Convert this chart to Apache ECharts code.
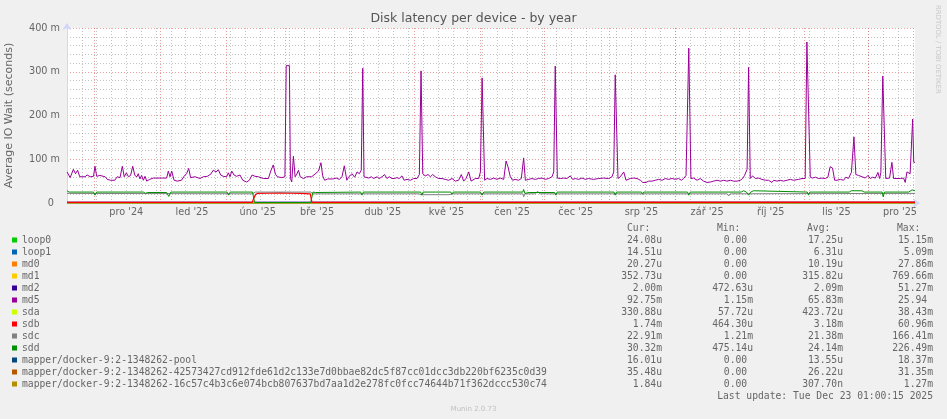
<!DOCTYPE html>
<html><head><meta charset="utf-8">
<script src="https://cdn.jsdelivr.net/npm/echarts@6/dist/echarts.min.js"></script>
<style>html,body{margin:0;padding:0;background:#F0F0F0;}#c{width:947px;height:419px;}</style>
</head><body><div id="c"></div>
<script>
// ---- data (x = days since 18 Nov 2024 01:00, y = milliseconds) ----
const seriesNames = ['loop0','loop1','md0','md1','md2','md5','sda','sdb','sdc','sdd',
  'mapper/docker-9:2-1348262-pool',
  'mapper/docker-9:2-1348262-42573427cd912fde61d2c133e7d0bbae82dc5f87cc01dcc3db220bf6235c0d39',
  'mapper/docker-9:2-1348262-16c57c4b3c6e074bcb807637bd7aa1d2e278fc0fcc74644b71f362dccc530c74'];
const seriesColors = ['#00CC00','#0066B3','#FF8000','#FFCC00','#330099','#990099','#CCFF00','#FF0000','#808080','#008F00','#00487D','#B35A00','#B38F00'];
const curVals = ['24.08u','14.51u','20.27u','352.73u','2.00m','92.75m','330.88u','1.74m','22.91m','30.32m','16.01u','35.48u','1.84u'];
const minVals = ['0.00 ','0.00 ','0.00 ','0.00 ','472.63u','1.15m','57.72u','464.30u','1.21m','475.14u','0.00 ','0.00 ','0.00 '];
const avgVals = ['17.25u','6.31u','10.19u','315.82u','2.09m','65.83m','423.72u','3.18m','21.38m','24.14m','13.55u','26.22u','307.70n'];
const maxVals = ['15.15m','5.09m','27.86m','769.66m','51.27m','25.94 ','38.43m','60.96m','166.41m','226.49m','18.37m','31.35m','1.27m'];
const monthStarts = [12.96,43.96,74.96,102.96,133.96,163.96,194.96,224.96,255.96,286.96,316.96,347.96,377.96];
const monthLabels = ["pro '24","led '25","úno '25","bře '25","dub '25","kvě '25","čen '25","čec '25","srp '25","zář '25","říj '25","lis '25","pro '25"];
const yTicks = [0,100,200,300,400];

const zeroPts = [[0,0],[400,0]];
const loop0Pts = [[0,0],[400,0]];
const loop1Pts = [[0,0],[400,0]];
const md0Pts = [[0,0],[400,0]];
const md1Pts = [[0,0.3],[384.6,0.3],[385,3],[385.4,0.3],[400,0.35]];
const md2Pts = [[0,2],[87.8,2],[88.3,5],[88.8,2],[115.5,2],[115.9,5],[116.3,2],[400,2]];
const sdaPts = [[0,0.4],[400,0.3]];
const sdbPts = [[0,1.5],[87.4,1.5],[88,10],[89,20],[90,22],[100,23],[110,22],[114.8,21],[115.5,1.5],[400,1.7]];
const sdcPts = [[0,22],[87.5,21],[88.8,25],[115,25],[116,21],[166,21],[167,19],[180,19],[182,21],[215,21],[215.4,14],[216,21],[221,21],[222,27],[223,21],[311.5,21],[312.1,16],[312.8,21],[400,22]];
const sddPts = [[0,28],[1,25],[12.5,25],[13.2,18],[14,25],[36,25],[37,22],[38,24],[47,24],[48,15],[49,25],[75.5,25],[76.2,18],[77,25],[87.5,25],[88.5,1],[115,1],[116,25],[116.5,27],[117.2,24],[138.5,25],[139.1,18],[139.8,25],[166.8,25],[167.4,18],[168,25],[174,25],[174.5,21],[175,25],[181,25],[181.6,20],[182.2,25],[195,25],[195.8,18],[196.6,25],[215,25],[215.4,31],[216,22],[218,24],[230,24],[230.6,18],[231.2,25],[258,25],[258.6,18],[259.2,25],[271,25],[271.5,20],[272,25],[292.7,25],[293.3,18],[294,25],[318,25],[319.2,28],[320.5,25],[321.5,18],[322.5,25],[323.9,28],[324.6,25],[349.2,25],[349.8,18],[350.4,25],[369,25],[370,28],[375,28],[376,25],[384.5,25],[385,14],[385.6,25],[397,25],[398.6,30],[400,28]];
const md5Pts = [[0,71],[1.5,58],[3,77],[4,67],[5,75],[6,60],[8.5,60],[9.5,64],[11,60],[12.5,61],[13.2,84],[14,61],[15.5,63],[18,60],[19,54],[20.5,52],[22.5,52],[23.7,60],[25,58],[26.1,84],[27,60],[28,69],[29,60],[30,63],[31,84],[32,63],[33,60],[33.6,67],[34.4,55],[35.2,63],[36,52],[36.8,61],[37.6,50],[39,54],[40.7,57],[45,57],[47,57],[47.8,73],[48.6,60],[49.4,73],[50.5,52],[52,50],[54,52],[55.2,61],[56.4,67],[57.4,79],[58.3,58],[60.4,60],[62.7,56],[64.3,60],[66.2,61],[67.8,66],[69,75],[70.3,71],[71.4,76],[72.5,64],[73.7,61],[75.3,60],[76.1,69],[76.9,60],[77.7,73],[78.8,64],[80,61],[81.6,64],[82.9,52],[84.7,48],[86,52],[87.3,64],[88.7,61],[90.3,60],[92.6,56],[95,56],[96.1,73],[97.3,87],[98.3,66],[99.2,60],[101.3,58],[102.8,60],[103.4,314],[104.9,314],[105.4,56],[106,48],[106.8,107],[107.6,60],[108.4,66],[109.2,75],[110,60],[111.5,56],[113,60],[115.4,60],[117,66],[118.6,73],[119.8,92],[120.6,62],[121.5,52],[123,55],[125.5,55],[127,57],[128.5,54],[129.7,60],[130.8,85],[132,52],[132.8,59],[134.4,67],[135.7,59],[136.8,71],[137.9,67],[138.8,75],[139.5,308],[140.1,60],[141,56],[142.3,57],[143.5,60],[144.6,56],[146.2,60],[147.3,56],[148.6,60],[149.8,65],[150.9,56],[152,60],[153.3,56],[154.6,56],[155.6,58],[156.7,56],[158,62],[159,52],[160.4,54],[162,52],[163.5,56],[165.1,56],[166.2,65],[167,302],[167.8,67],[169,62],[170.3,65],[171.4,60],[172.5,65],[173.7,60],[175.3,56],[176.9,56],[178.4,54],[180,52],[181.6,56],[183.2,50],[184.7,52],[186,65],[187.1,50],[188.2,56],[189.5,71],[190.6,50],[191.5,48],[192.6,56],[194.2,56],[195,71],[195.8,286],[197,52],[198.1,56],[199.7,54],[201.3,57],[202.8,54],[204.4,57],[206,54],[207.1,96],[208,83],[209.1,60],[210.2,52],[211.4,54],[213,52],[214.3,56],[215.4,103],[216.2,52],[217.8,54],[219.3,56],[220.9,54],[222.5,56],[224.1,57],[225.6,54],[227.2,56],[228.8,60],[229.6,71],[230.3,313],[231.3,57],[232.7,56],[234.3,57],[235.8,56],[237.4,62],[238.5,54],[239.8,56],[241.3,54],[242.9,57],[244.5,54],[246,56],[248.4,54],[250.8,56],[253.1,57],[255.5,56],[257.1,60],[257.9,71],[258.6,293],[259.9,56],[261,60],[261.8,56],[262.6,71],[263.7,52],[265.7,56],[267.3,57],[268.9,56],[270.5,52],[271.6,47],[273.1,47],[274.4,50],[276,50],[277.5,52],[279.1,54],[280.7,52],[282.2,56],[283.8,54],[285.4,56],[287,54],[288.5,56],[289.8,52],[290.9,56],[292,63],[292.8,67],[293.3,354],[294.3,56],[295.6,57],[297.2,52],[298.7,56],[300.3,50],[301.9,47],[303.5,48],[305,50],[306.6,52],[308.2,50],[309.8,52],[311.3,50],[312.9,52],[314.5,50],[316.1,50],[317.6,52],[318.7,56],[319.6,63],[320.8,77],[321.5,310],[322.3,56],[323.4,62],[324.7,56],[326.3,57],[327.8,54],[329.5,52],[330.9,52],[332.5,47],[333.3,52],[334.9,50],[336.4,52],[338,50],[339.6,52],[341.2,54],[342.7,52],[345.1,54],[346.7,56],[348.2,56],[349,368],[350.6,59],[351.7,57],[353,59],[354.5,56],[356.1,57],[357.7,56],[358.9,59],[360,83],[361.1,80],[362.1,52],[363.2,52],[364.8,54],[366.3,52],[367.4,59],[368.6,56],[370,70],[371.2,151],[372.1,65],[373.4,63],[375,60],[376.6,57],[377.8,63],[378.9,56],[380,59],[381.3,57],[382.5,70],[383.3,56],[383.9,70],[384.8,290],[385.6,290],[386.2,56],[386.9,59],[388,57],[389.1,93],[389.9,56],[391.5,56],[393.1,56],[394.6,57],[395.4,47],[396.2,71],[397,75],[397.7,67],[398.9,192],[399.4,93],[400,93]];

const seriesPts = {
  'loop0': loop0Pts, 'loop1': loop1Pts, 'md0': md0Pts, 'md1': md1Pts, 'md2': md2Pts, 'md5': md5Pts,
  'sda': sdaPts, 'sdb': sdbPts, 'sdc': sdcPts, 'sdd': sddPts
};
// draw order (later on top)
const drawOrder = [0,1,2,10,11,12,3,4,6,7,5,8,9];

const labelPos = monthStarts.map(d => d + 15);
const weekStarts = [];
for (let d = 6.96; d < 400; d += 7) weekStarts.push(d);

const MONO = '"DejaVu Sans Mono"';
const FONTC = '#666';

const chart = echarts.init(document.getElementById('c'), null, {renderer: 'canvas'});
const series = drawOrder.map(i => ({
  name: seriesNames[i], type: 'line', xAxisIndex: 2, yAxisIndex: 0,
  data: seriesPts[seriesNames[i]] || zeroPts,
  showSymbol: false, symbol: 'none', silent: true,
  color: seriesColors[i],
  lineStyle: {color: seriesColors[i], width: seriesNames[i] === 'sdb' ? 1.3 : 1},
  z: 3
}));

const gridMinor = {color: 'rgba(143,143,143,0.55)', width: 1, type: [1, 2]};
const gridMajor = {color: 'rgba(222,79,79,0.55)', width: 1, type: [1, 2]};

chart.setOption({
  backgroundColor: '#F0F0F0',
  animation: false,
  textStyle: {fontFamily: '"DejaVu Sans"'},
  title: {
    text: 'Disk latency per device - by year', left: 'center', top: 11, padding: 0,
    textStyle: {fontSize: 12.5, fontWeight: 'normal', color: '#555', fontFamily: '"DejaVu Sans"', lineHeight: 15}
  },
  grid: {left: 67, top: 28, width: 848, height: 175, show: true, backgroundColor: '#FFFFFF', borderWidth: 0,
         containLabel: false, outerBoundsMode: 'none'},
  xAxis: [
    {type: 'value', min: 0, max: 400, position: 'bottom', axisLine: {show: false},
     axisTick: {show: false, customValues: weekStarts}, axisLabel: {show: false},
     splitLine: {show: true, lineStyle: gridMinor}},
    {type: 'value', min: 0, max: 400, position: 'bottom', axisLine: {show: false},
     axisTick: {show: false, customValues: monthStarts}, axisLabel: {show: false},
     splitLine: {show: true, lineStyle: gridMajor}},
    {type: 'value', min: 0, max: 400, position: 'bottom',
     axisLine: {show: true, lineStyle: {color: '#CFD6F8', width: 1}, symbol: ['none', 'arrow'], symbolSize: [7, 7], symbolOffset: [0, 5]},
     axisTick: {show: false},
     axisLabel: {show: true, customValues: labelPos, color: FONTC, fontSize: 9.7, margin: 4,
       formatter: v => { for (let i = 0; i < labelPos.length; i++) if (Math.abs(labelPos[i] - v) < 0.01) return monthLabels[i]; return ''; }},
     splitLine: {show: false}}
  ],
  yAxis: {
    type: 'value', min: yTicks[0], max: yTicks[yTicks.length - 1], interval: 100,
    axisLine: {show: true, lineStyle: {color: '#CFD6F8', width: 1}, symbol: ['none', 'arrow'], symbolSize: [7, 7], symbolOffset: [0, 5]},
    axisTick: {show: false},
    axisLabel: {color: FONTC, fontSize: 9.7, margin: 7, formatter: v => v === 0 ? '0  ' : v + ' m'},
    splitLine: {show: true, lineStyle: gridMajor},
    minorTick: {show: false, splitNumber: 5},
    minorSplitLine: {show: true, lineStyle: gridMinor},
    name: 'Average IO Wait (seconds)', nameLocation: 'middle', nameGap: 52, nameRotate: 90,
    nameTextStyle: {fontSize: 11, color: FONTC}
  },
  legend: {
    orient: 'vertical', left: 12, top: 234, padding: 0, itemGap: 0, itemWidth: 5, itemHeight: 5,
    icon: 'rect', selectedMode: false, data: seriesNames,
    textStyle: {fontFamily: MONO, fontSize: 9.7, color: FONTC, lineHeight: 12}
  },
  graphic: [
    {type: 'text', x: 627, y: 228.5, silent: true, style: {text: 'Cur:', font: '9.7px ' + MONO, fill: FONTC, align: 'left', verticalAlign: 'middle'}},
    {type: 'text', x: 717, y: 228.5, silent: true, style: {text: 'Min:', font: '9.7px ' + MONO, fill: FONTC, align: 'left', verticalAlign: 'middle'}},
    {type: 'text', x: 807, y: 228.5, silent: true, style: {text: 'Avg:', font: '9.7px ' + MONO, fill: FONTC, align: 'left', verticalAlign: 'middle'}},
    {type: 'text', x: 897, y: 228.5, silent: true, style: {text: 'Max:', font: '9.7px ' + MONO, fill: FONTC, align: 'left', verticalAlign: 'middle'}},
    {type: 'text', x: 662, y: 234, silent: true, style: {text: curVals.join('\n'), font: '9.7px ' + MONO, fill: FONTC, align: 'right', verticalAlign: 'top', lineHeight: 12}},
    {type: 'text', x: 753, y: 234, silent: true, style: {text: minVals.join('\n'), font: '9.7px ' + MONO, fill: FONTC, align: 'right', verticalAlign: 'top', lineHeight: 12}},
    {type: 'text', x: 843, y: 234, silent: true, style: {text: avgVals.join('\n'), font: '9.7px ' + MONO, fill: FONTC, align: 'right', verticalAlign: 'top', lineHeight: 12}},
    {type: 'text', x: 933, y: 234, silent: true, style: {text: maxVals.join('\n'), font: '9.7px ' + MONO, fill: FONTC, align: 'right', verticalAlign: 'top', lineHeight: 12}},
    {type: 'text', x: 933, y: 396, silent: true, style: {text: 'Last update: Tue Dec 23 01:00:15 2025', font: '9.7px ' + MONO, fill: FONTC, align: 'right', verticalAlign: 'middle'}},
    {type: 'text', x: 937.5, y: 5, rotation: -Math.PI / 2, silent: true, style: {text: 'RRDTOOL / TOBI OETIKER', font: '6.9px "DejaVu Sans"', fill: '#c8c8c8', align: 'left', verticalAlign: 'middle'}},
    {type: 'text', x: 473.5, y: 409, silent: true, style: {text: 'Munin 2.0.73', font: '7px "DejaVu Sans"', fill: '#c0c0c0', align: 'center', verticalAlign: 'middle'}}
  ],
  series: series
});
</script></body></html>
